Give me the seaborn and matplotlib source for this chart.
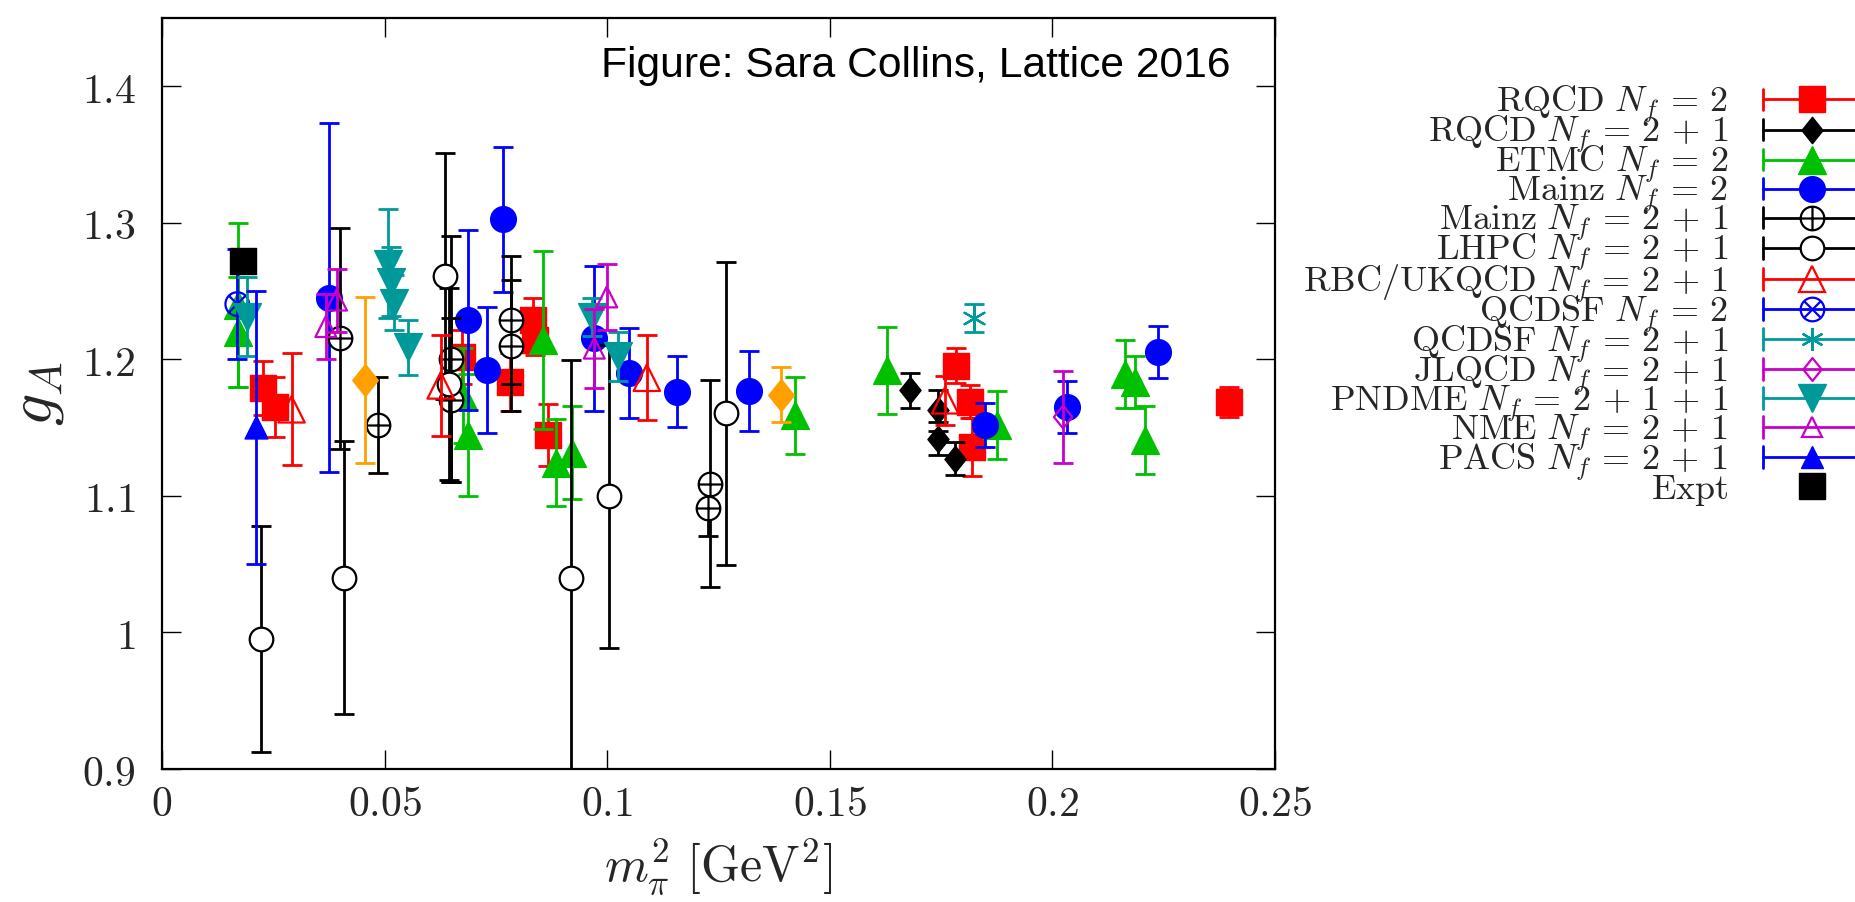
import numpy as np
import pandas as pd
import matplotlib
matplotlib.use("Agg")
import matplotlib.pyplot as plt
import seaborn as sns
from matplotlib.lines import Line2D
from matplotlib.path import Path
from matplotlib.legend_handler import HandlerBase

# ---------------- data (m_pi^2 [GeV^2], g_A, error) ----------------
rqcd2_x = [0.0226, 0.0254, 0.0673, 0.0782, 0.0834, 0.0838, 0.0868, 0.1783, 0.1815, 0.1819, 0.2397]
rqcd2_y = [1.179, 1.165, 1.2016, 1.1833, 1.229, 1.214, 1.1446, 1.1955, 1.169, 1.1358, 1.1687]
rqcd2_e = [0.020, 0.022, 0.020, 0.021, 0.016, 0.011, 0.023, 0.013, 0.012, 0.021, 0.011]

rqcd21_x = [0.1680, 0.1744, 0.1744, 0.1781]
rqcd21_y = [1.1773, 1.1626, 1.1420, 1.1273]
rqcd21_e = [0.013, 0.015, 0.012, 0.012]

etmc_x = [0.0171, 0.0171, 0.0677, 0.0688, 0.0856, 0.0886, 0.0922, 0.1422, 0.1628, 0.1875, 0.2164, 0.2185, 0.2208]
etmc_y = [1.220, 1.240, 1.1735, 1.1446, 1.214, 1.1244, 1.1316, 1.159, 1.1919, 1.152, 1.1895, 1.1833, 1.1407]
etmc_e = [0.040, 0.060, 0.035, 0.045, 0.065, 0.032, 0.034, 0.028, 0.032, 0.025, 0.025, 0.019, 0.025]

mainz2_x = [0.0376, 0.0688, 0.0729, 0.0767, 0.0971, 0.1050, 0.1156, 0.1318, 0.1848, 0.2033, 0.2238]
mainz2_y = [1.2452, 1.2290, 1.1923, 1.3027, 1.2154, 1.1900, 1.1764, 1.1768, 1.1520, 1.1650, 1.2053]
mainz2_e = [0.128, 0.066, 0.046, 0.053, 0.053, 0.033, 0.026, 0.029, 0.016, 0.019, 0.019]

mainz21_x = [0.0400, 0.0485, 0.0650, 0.0650, 0.0785, 0.0785, 0.1226, 0.1232]
mainz21_y = [1.2155, 1.1518, 1.2000, 1.1700, 1.2290, 1.2100, 1.0910, 1.1090]
mainz21_e = [0.081, 0.035, 0.090, 0.060, 0.047, 0.048, 0.020, 0.076]

lhpc_x = [0.0222, 0.0408, 0.0636, 0.0645, 0.0919, 0.1005, 0.1267]
lhpc_y = [0.9952, 1.0400, 1.2608, 1.1820, 1.0397, 1.0998, 1.1605]
lhpc_e = [0.083, 0.100, 0.090, 0.070, 0.160, 0.111, 0.111]

rbc_x = [0.0291, 0.0626, 0.1089, 0.1759]
rbc_y = [1.1634, 1.1809, 1.1865, 1.1700]
rbc_e = [0.041, 0.037, 0.031, 0.018]

qcdsf2_x = [0.0169]
qcdsf2_y = [1.2405]
qcdsf2_e = [0.040]

qcdsf21_x = [0.1824]
qcdsf21_y = [1.2304]
qcdsf21_e = [0.010]

jlqcd_x = [0.2024]
jlqcd_y = [1.1578]
jlqcd_e = [0.034]

pndme_x = [0.0192, 0.0508, 0.0515, 0.0520, 0.0553, 0.0965, 0.1025]
pndme_y = [1.2313, 1.2700, 1.2570, 1.2415, 1.2089, 1.2313, 1.2024]
pndme_e = [0.029, 0.040, 0.025, 0.020, 0.020, 0.014, 0.018]

nme_x = [0.0368, 0.0392, 0.0971, 0.0999]
nme_y = [1.2240, 1.2434, 1.2082, 1.2457]
nme_e = [0.024, 0.023, 0.029, 0.024]

pacs_x = [0.0211]
pacs_y = [1.1504]
pacs_e = [0.100]

other_x = [0.0456, 0.1390]
other_y = [1.1850, 1.1741]
other_e = [0.061, 0.020]

expt_x = [0.0182]
expt_y = [1.2723]

x_ticks = [0, 0.05, 0.1, 0.15, 0.2, 0.25]
x_ticklabels = ["0", "0.05", "0.1", "0.15", "0.2", "0.25"]
y_ticks = [0.9, 1.0, 1.1, 1.2, 1.3, 1.4]
y_ticklabels = ["0.9", "1", "1.1", "1.2", "1.3", "1.4"]

# ---------------- style ----------------
sns.set_style("ticks")
plt.rcParams["mathtext.fontset"] = "cm"
plt.rcParams["font.family"] = ["DejaVu Serif"]
plt.rcParams["axes.linewidth"] = 1.6
plt.rcParams["axes.edgecolor"] = "black"

RED = "#ff0000"
BLACK = "#000000"
GREEN = "#00c000"
BLUE = "#0000ff"
TEAL = "#009999"
MAGENTA = "#c800c8"
ORANGE = "#ffa000"

# marker paths
circ = Path.unit_circle()
plus = Path([(-1, 0), (1, 0), (0, -1), (0, 1)],
            [Path.MOVETO, Path.LINETO, Path.MOVETO, Path.LINETO])
r = 0.7071
cross = Path([(-r, -r), (r, r), (-r, r), (r, -r)],
             [Path.MOVETO, Path.LINETO, Path.MOVETO, Path.LINETO])
OPLUS = Path.make_compound_path(circ, plus)
OTIMES = Path.make_compound_path(circ, cross)
DIAM = Path([(0, 1), (0.8, 0), (0, -1), (-0.8, 0), (0, 1)],
            [Path.MOVETO, Path.LINETO, Path.LINETO, Path.LINETO, Path.CLOSEPOLY])
ASTER = (6, 2, 0)


def lab(name, nf):
    nf = nf.replace("+", r"\,+\,")
    return r"$\mathrm{%s}\ N_f\,=\,%s$" % (name, nf)


# series: label, x, y, err, color, marker, size(pt), face, edge linewidth, kind
series = [
    (lab("RQCD", "2"), rqcd2_x, rqcd2_y, rqcd2_e, RED, "s", 18.5, RED, 1.0, "fill"),
    (lab("RQCD", "2+1"), rqcd21_x, rqcd21_y, rqcd21_e, BLACK, DIAM, 19, BLACK, 1.0, "fill"),
    (lab("ETMC", "2"), etmc_x, etmc_y, etmc_e, GREEN, "^", 20, GREEN, 1.0, "fill"),
    (lab("Mainz", "2"), mainz2_x, mainz2_y, mainz2_e, BLUE, "o", 18.5, BLUE, 1.0, "fill"),
    (lab("Mainz", "2+1"), mainz21_x, mainz21_y, mainz21_e, BLACK, OPLUS, 17, "white", 1.6, "open"),
    (lab("LHPC", "2+1"), lhpc_x, lhpc_y, lhpc_e, BLACK, "o", 17, "white", 1.6, "open"),
    (lab("RBC/UKQCD", "2+1"), rbc_x, rbc_y, rbc_e, RED, "^", 19, "none", 1.6, "open"),
    (lab("QCDSF", "2"), qcdsf2_x, qcdsf2_y, qcdsf2_e, BLUE, OTIMES, 17, "none", 1.6, "open"),
    (lab("QCDSF", "2+1"), qcdsf21_x, qcdsf21_y, qcdsf21_e, TEAL, ASTER, 16.5, TEAL, 1.6, "line"),
    (lab("JLQCD", "2+1"), jlqcd_x, jlqcd_y, jlqcd_e, MAGENTA, DIAM, 16.5, "none", 1.6, "open"),
    (lab("PNDME", "2+1+1"), pndme_x, pndme_y, pndme_e, TEAL, "v", 20, TEAL, 1.0, "fill"),
    (lab("NME", "2+1"), nme_x, nme_y, nme_e, MAGENTA, "^", 15, "none", 1.6, "open"),
    (lab("PACS", "2+1"), pacs_x, pacs_y, pacs_e, BLUE, "^", 16.5, BLUE, 1.0, "fill"),
    (None, other_x, other_y, other_e, ORANGE, DIAM, 23, ORANGE, 1.0, "fill"),
    (r"$\mathrm{Expt}$", expt_x, expt_y, None, BLACK, "s", 18.5, BLACK, 1.0, "fill"),
]

W, H = 1856, 902
fig = plt.figure(figsize=(W / 100, H / 100), dpi=100)
ax = fig.add_axes([162 / W, 1 - 769 / H, (1275 - 162) / W, (769 - 18) / H])


class Key:
    def __init__(self, color, marker, ms, face, mew, kind, line=True):
        self.color = color
        self.marker = marker
        self.ms = ms
        self.face = face
        self.mew = mew
        self.kind = kind
        self.line = line


class CapLineHandler(HandlerBase):
    def create_artists(self, legend, key, xdescent, ydescent, width, height, fontsize, trans):
        y = height / 2 - ydescent
        x0 = -xdescent
        x1 = x0 + width
        arts = []
        if key.line:
            arts.append(Line2D([x0, x1], [y, y], color=key.color, lw=2.0))
            for xc in (x0, x1):
                arts.append(Line2D([xc, xc], [y - 7.8, y + 7.8], color=key.color, lw=2.0))
        if key.kind == "line":
            mk = Line2D([(x0 + x1) / 2], [y], ls="none", marker=key.marker, ms=key.ms,
                        color=key.color, mew=key.mew)
        else:
            mk = Line2D([(x0 + x1) / 2], [y], ls="none", marker=key.marker, ms=key.ms,
                        mfc=key.face, mec=key.color, mew=key.mew)
        arts.append(mk)
        for a in arts:
            a.set_transform(trans)
        return arts


handles, labels = [], []
for i, (label, xs, ys, es, col, mk, ms, face, mew, kind) in enumerate(series):
    z = 3 + i * 0.1
    if es is not None:
        ax.errorbar(xs, ys, yerr=es, fmt="none", ecolor=col, elinewidth=2.0,
                    capsize=7.5, capthick=2.0, zorder=z)
    df = pd.DataFrame({"x": xs, "y": ys})
    if kind == "line":
        sns.scatterplot(data=df, x="x", y="y", ax=ax, marker=mk, s=ms ** 2,
                        facecolor=col, edgecolor=None, linewidth=mew,
                        zorder=z + 0.05, legend=False)
    else:
        sns.scatterplot(data=df, x="x", y="y", ax=ax, marker=mk, s=ms ** 2,
                        facecolor=face, edgecolor=col, linewidth=mew,
                        zorder=z + 0.05, legend=False)
    if label is not None:
        handles.append(Key(col, mk, ms, face, mew, kind, line=es is not None))
        labels.append(label)

ax.set_xlim(0, 0.25)
ax.set_ylim(0.9, 1.45)
ax.set_xticks(x_ticks)
ax.set_xticklabels(["$%s$" % t for t in x_ticklabels])
ax.set_yticks(y_ticks)
ax.set_yticklabels(["$%s$" % t for t in y_ticklabels])
ax.tick_params(which="major", direction="in", length=14, width=1.0, top=True, right=True,
               labelsize=30, color="black")
ax.tick_params(axis="y", pad=19)
ax.tick_params(axis="x", pad=10)
ax.minorticks_off()
ax.grid(False)
for s in ax.spines.values():
    s.set_visible(True)
    s.set_linewidth(1.6)
    s.set_color("black")

ax.set_xlabel(r"$m_\pi^2\ [\mathrm{GeV}^2]$", fontsize=36)
ax.xaxis.set_label_coords(0.5, (769 - 836) / 751)
ax.set_ylabel(r"$g_A$", fontsize=46)
ax.yaxis.set_label_coords((66 - 162) / 1113, 0.5)

ax.text((1231 - 162) / 1113, (769 - 77) / 751, "Figure: Sara Collins, Lattice 2016",
        transform=ax.transAxes, ha="right", va="baseline", fontsize=30.7,
        family=["Liberation Sans", "DejaVu Sans"], color="black", zorder=10)

leg = ax.legend(handles, labels, handler_map={Key: CapLineHandler()},
                loc="upper right", bbox_to_anchor=(1860 / W, 1 - 84 / H),
                bbox_transform=fig.transFigure, frameon=False, fontsize=26,
                markerfirst=False, handlelength=2.68, handleheight=0.7,
                handletextpad=0.97, labelspacing=-0.31, borderpad=0,
                borderaxespad=0)
for t in leg.get_texts():
    t.set_ha("right")

fig.savefig("out.png", dpi=100)
